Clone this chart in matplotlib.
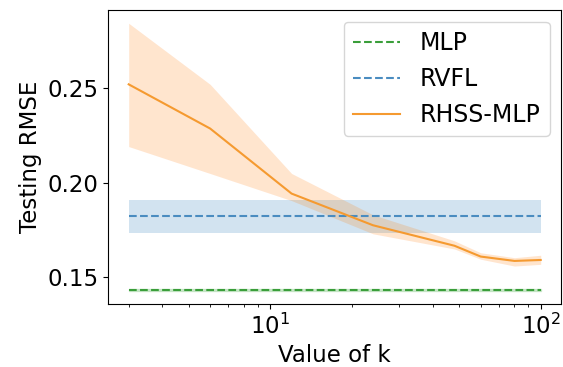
import numpy as np
import matplotlib
matplotlib.use('Agg')
import matplotlib.pyplot as plt

# values
k_values = [3, 6, 12, 24, 48, 60, 80, 100]
rhss_mean = [0.2518, 0.2285, 0.1942, 0.1775, 0.1667, 0.1610, 0.1587, 0.1592]
rhss_upper = [0.2840, 0.2518, 0.2048, 0.1830, 0.1693, 0.1630, 0.1604, 0.1617]
rhss_lower = [0.2190, 0.2048, 0.1905, 0.1730, 0.1650, 0.1596, 0.1560, 0.1569]

mlp_mean = 0.1434
mlp_std = 0.0003
rvfl_mean = 0.1822
rvfl_std = 0.0088

plt.rcParams['font.size'] = 16.5

fig = plt.figure(figsize=(5.63, 3.67), dpi=100)
ax = fig.add_axes([0.192, 0.172, 0.805, 0.801])

k = np.array(k_values)
ax.plot(k, np.full(len(k), mlp_mean), '--', color='#3a9e3a', label='MLP')
ax.fill_between(k, mlp_mean - mlp_std, mlp_mean + mlp_std, color='tab:green', alpha=0.2)
ax.plot(k, np.full(len(k), rvfl_mean), '--', color='#4a8cc0', label='RVFL')
ax.fill_between(k, rvfl_mean - rvfl_std, rvfl_mean + rvfl_std, color='tab:blue', alpha=0.2, linewidth=0)
ax.plot(k, rhss_mean, '-', color='#f59a30', label='RHSS-MLP')
ax.fill_between(k, rhss_lower, rhss_upper, color='tab:orange', alpha=0.2, linewidth=0)

ax.set_xscale('log')
ax.set_yticks([0.15, 0.20, 0.25])
ax.set_xlabel('Value of k')
ax.set_ylabel('Testing RMSE')
ax.legend(loc='upper right', fontsize=17)

plt.savefig('out.png', dpi=100)
